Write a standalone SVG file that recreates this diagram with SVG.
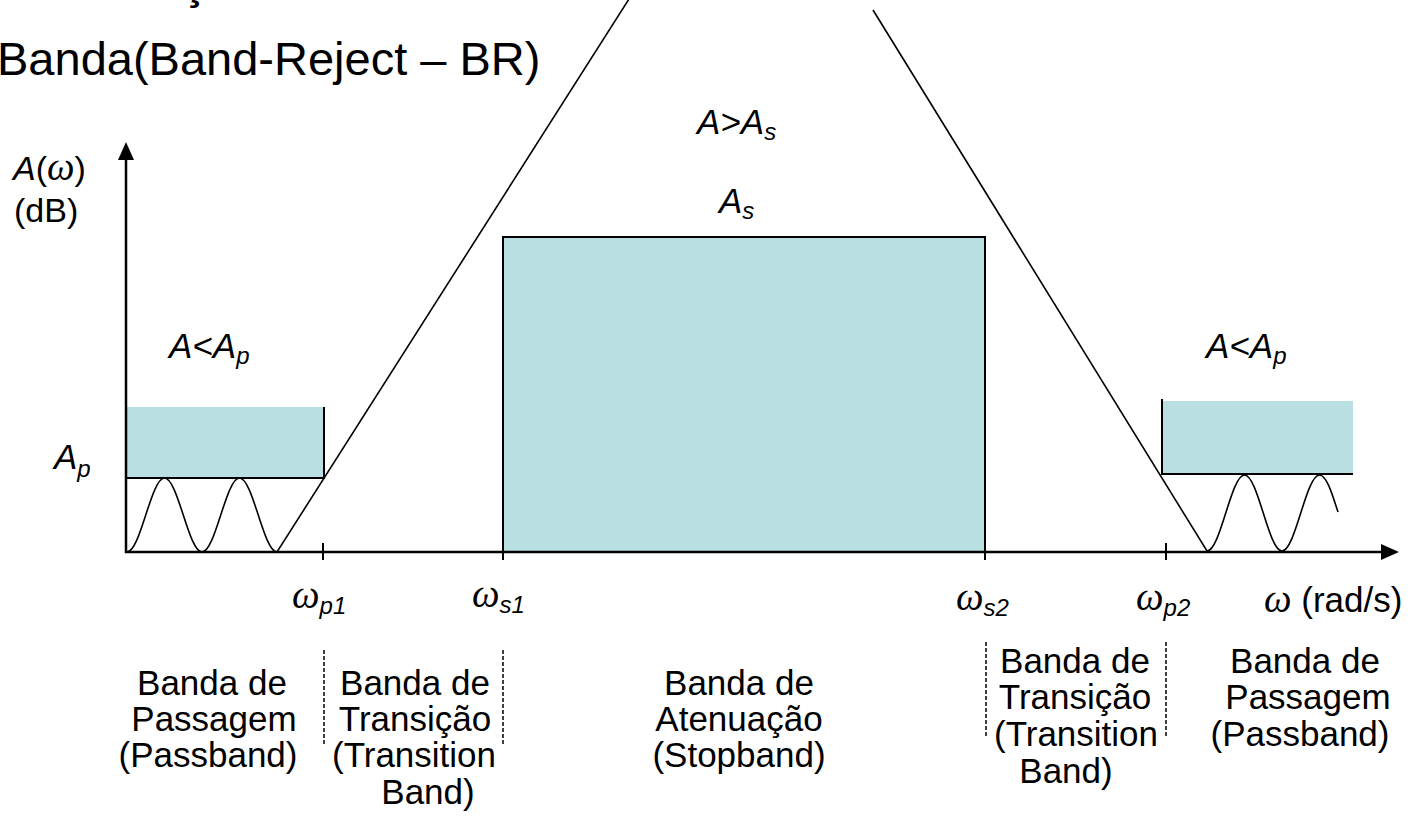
<svg xmlns="http://www.w3.org/2000/svg" width="1413" height="830" viewBox="0 0 1413 830">
<style>
.t{font-family:"Liberation Sans",Arial,sans-serif;fill:#000}
.title{font-size:47px}
.lab{font-family:"Liberation Sans",Arial,sans-serif;font-size:35px;font-style:italic}
.sub{font-family:"Liberation Sans",Arial,sans-serif;font-size:24px;font-style:italic}
.om{font-family:"Liberation Serif","Times New Roman",serif;font-size:39px;font-style:italic}
.band{font-family:"Liberation Sans",Arial,sans-serif;font-size:35px;text-anchor:middle}
.ln{stroke:#000;stroke-width:1.6;fill:none}
.ax{stroke:#000;stroke-width:2.5;fill:none}
.fill{fill:#b9dfe2}
.edge{stroke:#000;stroke-width:2;fill:none}
.box{fill:#b9dfe2;stroke:#000;stroke-width:2}
.dash{stroke:#000;stroke-width:1.5;stroke-dasharray:4 2;fill:none}
</style>
<rect width="1413" height="830" fill="#fff"/>
<g id="title">
<text class="t" x="182" y="-1" font-size="44" font-weight="bold">ç</text>
<text class="t title" x="-3" y="75">Banda(Band-Reject – BR)</text>
</g>
<g id="masks">
<g id="passband-left">
<rect class="fill" x="126" y="407" width="198" height="71"/>
<path class="edge" d="M324,407 V478 H126"/>
</g>
<g id="stopband">
<rect class="box" x="503" y="237" width="482" height="315"/>
</g>
<g id="passband-right">
<rect class="fill" x="1162" y="401" width="191" height="73"/>
<path class="edge" d="M1162,399 V474 H1353"/>
</g>
</g>
<g id="connectors">
<path class="ln" d="M127,552 C140.5,552 151,478 164.5,478 C178,478 188.5,552 202,552 C215.5,552 226,478 239.5,478 C253,478 263.5,552 277,552 L629,-1"/>
<path class="ln" d="M873,10 L1207,551 C1220.5,551 1231,475 1244.5,475 C1258,475 1268.5,551 1282,551 C1295.5,551 1306,475 1319.5,475 C1327,475 1333,497 1338,512"/>
<line class="ax" x1="126" y1="553" x2="126" y2="156"/>
<polygon points="126,142 118,160 134,160" fill="#000"/>
<line class="ax" x1="125" y1="552" x2="1384" y2="552"/>
<polygon points="1399,552 1381,544 1381,560" fill="#000"/>
<path class="edge" d="M323,543 V560 M503,543 V560 M985,543 V560 M1166,543 V560"/>
<path class="dash" d="M324,650 V744 M503,650 V744 M986,642 V736 M1166,642 V736"/>
</g>
<g id="axis-labels">
<text class="t" x="13" y="180" font-size="34"><tspan font-style="italic">A</tspan>(<tspan class="om" font-size="34">ω</tspan>)</text>
<text class="t" x="14" y="222" font-size="34">(dB)</text>
<text class="lab" x="54" y="469">A<tspan class="sub" dy="8">p</tspan></text>
<text class="lab" x="169" y="358">A&lt;A<tspan class="sub" dy="6">p</tspan></text>
<text class="lab" x="1206" y="358">A&lt;A<tspan class="sub" dy="6">p</tspan></text>
<text class="lab" x="697" y="134">A&gt;A<tspan class="sub" dy="6">s</tspan></text>
<text class="lab" x="719" y="213">A<tspan class="sub" dy="6">s</tspan></text>
<text x="292" y="608"><tspan class="om">ω</tspan><tspan class="sub" dy="6">p1</tspan></text>
<text x="472" y="607"><tspan class="om">ω</tspan><tspan class="sub" dy="6">s1</tspan></text>
<text x="956" y="610"><tspan class="om">ω</tspan><tspan class="sub" dy="6">s2</tspan></text>
<text x="1136" y="610"><tspan class="om">ω</tspan><tspan class="sub" dy="6">p2</tspan></text>
<text x="1264" y="612"><tspan class="om">ω</tspan><tspan class="t" font-size="35"> (rad/s)</tspan></text>
</g>
<g id="band-labels">
<text class="band"><tspan x="212" y="695">Banda de</tspan><tspan x="214" y="731">Passagem</tspan><tspan x="208" y="767">(Passband)</tspan></text>
<text class="band"><tspan x="415" y="695">Banda de</tspan><tspan x="415" y="731">Transição</tspan><tspan x="414" y="767">(Transition</tspan><tspan x="428" y="804">Band)</tspan></text>
<text class="band"><tspan x="739" y="695">Banda de</tspan><tspan x="739" y="731">Atenuação</tspan><tspan x="739" y="767">(Stopband)</tspan></text>
<text class="band"><tspan x="1075" y="673">Banda de</tspan><tspan x="1075" y="709">Transição</tspan><tspan x="1076" y="746">(Transition</tspan><tspan x="1066" y="783">Band)</tspan></text>
<text class="band"><tspan x="1305" y="673">Banda de</tspan><tspan x="1308" y="709">Passagem</tspan><tspan x="1300" y="746">(Passband)</tspan></text>
</g>
</svg>
